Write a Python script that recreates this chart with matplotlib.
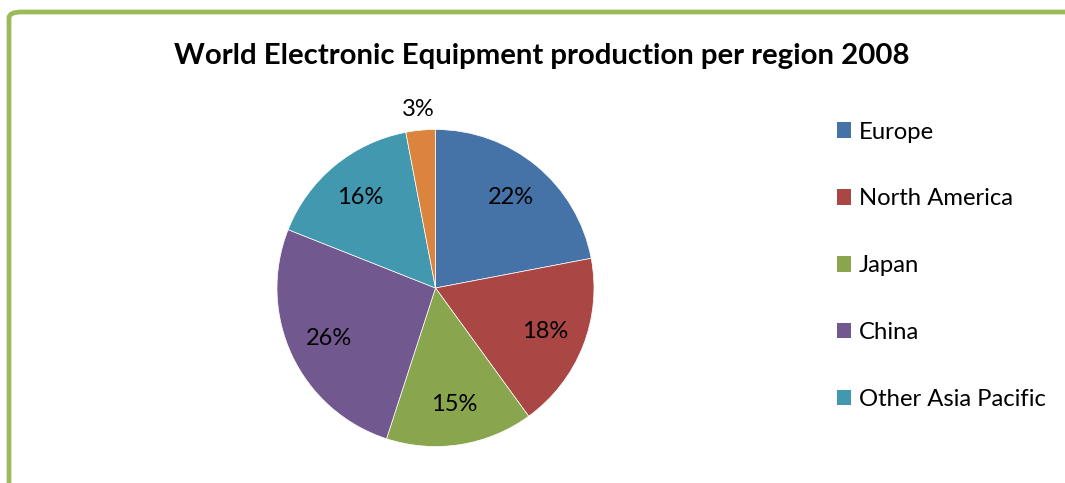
import matplotlib.pyplot as plt
import numpy as np
from matplotlib.patches import FancyBboxPatch, Patch

plt.rcParams['font.family'] = ['Lato', 'DejaVu Sans']

# Data
regions = ['Europe', 'North America', 'Japan', 'China', 'Other Asia Pacific', 'Other']
shares = [22, 18, 15, 26, 16, 3]
colors = ['#4572A7', '#AA4643', '#89A54E', '#71588F', '#4198AF', '#DB843D']
title = 'World Electronic Equipment production per region 2008'

W, H = 1065, 483
fig = plt.figure(figsize=(W / 100, H / 100), dpi=100)

# green rounded frame (cut off at right / bottom)
frame = FancyBboxPatch((9 / W, -0.2), 1.2, 1 - 12 / H + 0.2,
                       boxstyle='round,pad=0,rounding_size=0.012',
                       transform=fig.transFigure, facecolor='none',
                       edgecolor='#9BBB59', linewidth=3.4, clip_on=False)
fig.patches.append(frame)

fig.text(542 / W, 1 - 56 / H, title, ha='center', va='center',
         fontsize=21.2, fontweight='bold')

# pie axes: centre (435.5, 288) px, radius 158.5 px
cx, cy, r = 435.5, 288, 158.5
ax = fig.add_axes([(cx - r) / W, 1 - (cy + r) / H, 2 * r / W, 2 * r / H])
wedges, texts = ax.pie(shares, colors=colors, startangle=90, counterclock=False,
                       wedgeprops=dict(edgecolor='white', linewidth=0.5))
ax.set_xlim(-1, 1)
ax.set_ylim(-1, 1)
ax.set_aspect('equal')
ax.axis('off')

# percentage labels
for w, v in zip(wedges, shares):
    ang = np.deg2rad((w.theta1 + w.theta2) / 2)
    d = 1.13 if v < 5 else 0.745
    ax.text(d * np.cos(ang), d * np.sin(ang), f'{v}%', ha='center', va='center',
            fontsize=17, clip_on=False)

handles = [Patch(facecolor=c) for c in colors[:5]]
fig.legend(handles, regions[:5], loc='upper left',
           bbox_to_anchor=(827 / W, 1 - 112 / H), frameon=False,
           fontsize=17.2, handlelength=0.62, handleheight=0.62,
           handletextpad=0.3, labelspacing=1.92, borderaxespad=0)

fig.savefig('out.png', dpi=100)
